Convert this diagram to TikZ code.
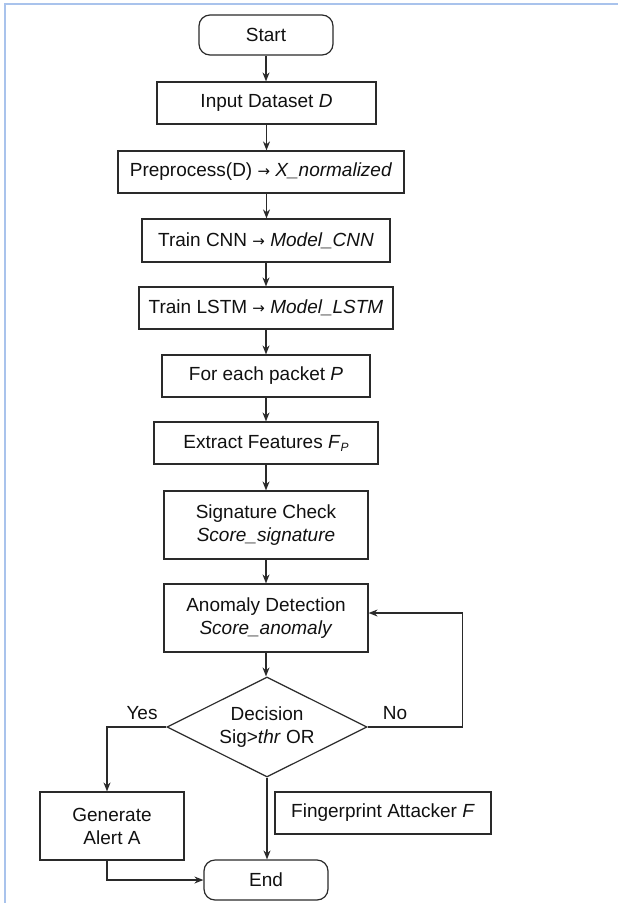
\documentclass[tikz,border=0pt]{standalone}
\usepackage{fontspec}
\setmainfont{Liberation Sans}
\newfontfamily\arrfont{DejaVu Sans}
\newcommand{\rarr}{{\arrfont\fontsize{15}{15}\selectfont →}}
\usetikzlibrary{shapes.geometric,arrows.meta}
\definecolor{framecol}{HTML}{A9C3EC}
\definecolor{linecol}{HTML}{2A2A2A}
\definecolor{txtcol}{HTML}{111111}
\tikzset{
  box/.style={draw=linecol, line width=1.2pt, inner sep=0pt, align=center, text=txtcol, font=\fontsize{19}{23}\selectfont},
  term/.style={box, rounded corners=11pt},
  dec/.style={box, diamond, aspect=2},
  lbl/.style={inner sep=0pt, text=txtcol, font=\fontsize{19}{23}\selectfont},
  arr/.style={draw=linecol, line width=1.2pt, -{Stealth[length=9pt,width=7pt]}},
  ln/.style={draw=linecol, line width=1.2pt}
}
\begin{document}
\begin{tikzpicture}[x=1pt,y=-1pt]
\useasboundingbox (0,0) rectangle (618,903);
\fill[white] (0,0) rectangle (618,903);
\draw[framecol, line width=2pt] (5,904) -- (5,4) -- (619,4);

\node[term, minimum width=134pt, minimum height=40pt] (start) at (266,35) {Start};
\node[box, minimum width=219pt, minimum height=42pt] (input) at (266.5,103) {Input Dataset \textit{D}};
\node[box, minimum width=286pt, minimum height=42pt] (prep) at (261,172) {Preprocess(D) \rarr{} \textit{X\_normalized}};
\node[box, minimum width=248pt, minimum height=43pt] (cnn) at (266,240.5) {Train CNN \rarr{} \textit{Model\_CNN}};
\node[box, minimum width=254pt, minimum height=42pt] (lstm) at (266,308) {Train LSTM \rarr{} \textit{Model\_LSTM}};
\node[box, minimum width=208pt, minimum height=42pt] (each) at (266,376) {For each packet \textit{P}};
\node[box, minimum width=224pt, minimum height=42pt] (extr) at (266,443) {Extract Features \textit{F}\raisebox{-3pt}{\fontsize{12}{12}\selectfont\textit{P}}};
\node[box, minimum width=204pt, minimum height=68pt] (sig) at (266,525) {Signature Check\\\textit{Score\_signature}};
\node[box, minimum width=204pt, minimum height=68pt] (anom) at (266,618) {Anomaly Detection\\\textit{Score\_anomaly}};
\node[dec, minimum width=200pt, minimum height=100pt] (dec) at (267,727) {Decision\\Sig>\textit{thr} OR};
\node[box, minimum width=144pt, minimum height=68pt] (gen) at (112,826) {Generate\\Alert A};
\node[box, minimum width=216pt, minimum height=42pt] (fing) at (383,813) {Fingerprint Attacker \textit{F}};
\node[term, minimum width=124pt, minimum height=40pt] (end) at (266,880) {End};
\node[lbl] (yes) at (142,713) {Yes};
\node[lbl] (no) at (395,713) {No};

\draw[arr] (start.south) -- (start.south |- input.north);
\draw[arr] (input.south) -- (input.south |- prep.north);
\draw[arr] (input.south |- prep.south) -- (input.south |- cnn.north);
\draw[arr] (cnn.south) -- (cnn.south |- lstm.north);
\draw[arr] (lstm.south) -- (lstm.south |- each.north);
\draw[arr] (each.south) -- (each.south |- extr.north);
\draw[arr] (extr.south) -- (extr.south |- sig.north);
\draw[arr] (sig.south) -- (sig.south |- anom.north);
\draw[arr] (anom.south) -- (anom.south |- dec.north);
\draw[arr] (dec.east) -- ++(95,0) |- ([yshift=5pt]anom.east);
\draw[arr] (dec.west) -| ([xshift=-5pt]gen.north);
\draw[arr] (dec.south) -- (dec.south |- end.north);
\draw[arr] ([xshift=-5pt]gen.south) |- (end.west);
\end{tikzpicture}
\end{document}
